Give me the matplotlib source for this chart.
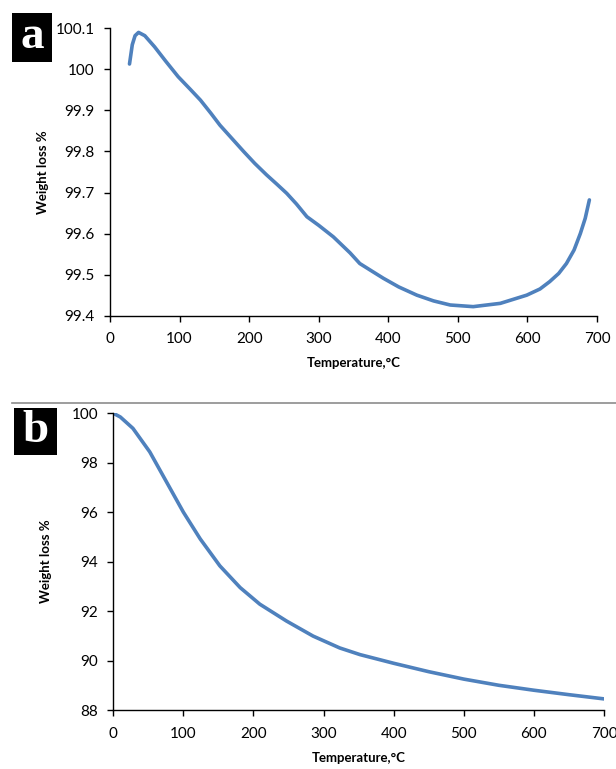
import matplotlib.pyplot as plt
from matplotlib.patches import Rectangle

plt.rcParams['font.family'] = ['Lato', 'DejaVu Sans']

# panel a: weight (%) vs temperature
temp_a = [28, 32, 36, 41, 50, 64, 80, 98, 115, 130, 145, 158, 175, 192, 208, 225, 240, 254,
          268, 283, 300, 321, 345, 359, 375, 393, 415, 441, 465, 489, 522, 561, 599, 618,
          632, 645, 656, 667, 676, 683, 689]
weight_a = [100.013, 100.06, 100.082, 100.09, 100.082, 100.055, 100.02, 99.982, 99.952, 99.925,
            99.893, 99.864, 99.832, 99.80, 99.771, 99.743, 99.72, 99.698, 99.672, 99.641,
            99.62, 99.592, 99.553, 99.527, 99.51, 99.491, 99.47, 99.45, 99.436, 99.426,
            99.422, 99.43, 99.45, 99.465, 99.483, 99.503, 99.527, 99.56, 99.60, 99.637, 99.682]

# panel b
temp_b = [0, 10, 28, 52, 76, 100, 124, 152, 181, 209, 247, 285, 323, 352, 400, 450, 500,
          550, 600, 650, 700]
weight_b = [100.0, 99.85, 99.39, 98.44, 97.22, 96.0, 94.92, 93.83, 92.95, 92.28, 91.6, 90.99,
            90.51, 90.24, 89.89, 89.55, 89.25, 89.0, 88.8, 88.62, 88.45]

line_color = '#4F81BD'

fig = plt.figure(figsize=(6.16, 7.69), dpi=100)


def style_axes(ax, ylabelpad):
    for s in ['top', 'right']:
        ax.spines[s].set_visible(False)
    ax.spines['left'].set_linewidth(1.0)
    ax.spines['bottom'].set_linewidth(1.0)
    ax.tick_params(direction='out', length=4, width=1.0, labelsize=11)
    ax.tick_params(axis='x', pad=8)
    ax.tick_params(axis='y', pad=7)
    ax.set_xlabel('Temperature,\u00b0C', fontsize=9.5, fontweight='bold', labelpad=8)
    ax.set_ylabel('Weight loss %', fontsize=9.5, fontweight='bold', labelpad=ylabelpad)
    ax.set_xlim(0, 700)
    ax.set_xticks(range(0, 701, 100))


ax1 = fig.add_axes([0.1786, 0.5895, 0.7906, 0.3737])
ax1.plot(temp_a, weight_a, color=line_color, lw=2.6, solid_capstyle='round')
ax1.set_ylim(99.4, 100.1)
ax1.set_yticks([99.4, 99.5, 99.6, 99.7, 99.8, 99.9, 100.0, 100.1])
ax1.set_yticklabels(['99.4', '99.5', '99.6', '99.7', '99.8', '99.9', '100', '100.1'])
style_axes(ax1, 5)

ax2 = fig.add_axes([0.1839, 0.0767, 0.7966, 0.3859])
ax2.plot(temp_b, weight_b, color=line_color, lw=2.6, solid_capstyle='round')
ax2.set_ylim(88, 100)
ax2.set_yticks(range(88, 101, 2))
style_axes(ax2, 14)

# separator between the two panels
sep_y = 1 - 403 / 769
fig.add_artist(plt.Line2D([12 / 616, 1.0], [sep_y, sep_y], color='#8c8c8c', lw=1.2))

# panel letters in black boxes
for letter, (x0, y0, x1, y1) in [('a', (12, 13, 52, 62)), ('b', (14, 408, 57, 455))]:
    fig.add_artist(Rectangle((x0 / 616, 1 - y1 / 769), (x1 - x0) / 616, (y1 - y0) / 769,
                             transform=fig.transFigure, fc='black', ec='none'))
    fig.text((x0 + x1) / 2 / 616, 1 - (y0 + y1) / 2 / 769, letter, color='white', fontsize=34,
             fontweight='bold', family='Liberation Serif', ha='center', va='center')

fig.savefig('out.png', dpi=100)
